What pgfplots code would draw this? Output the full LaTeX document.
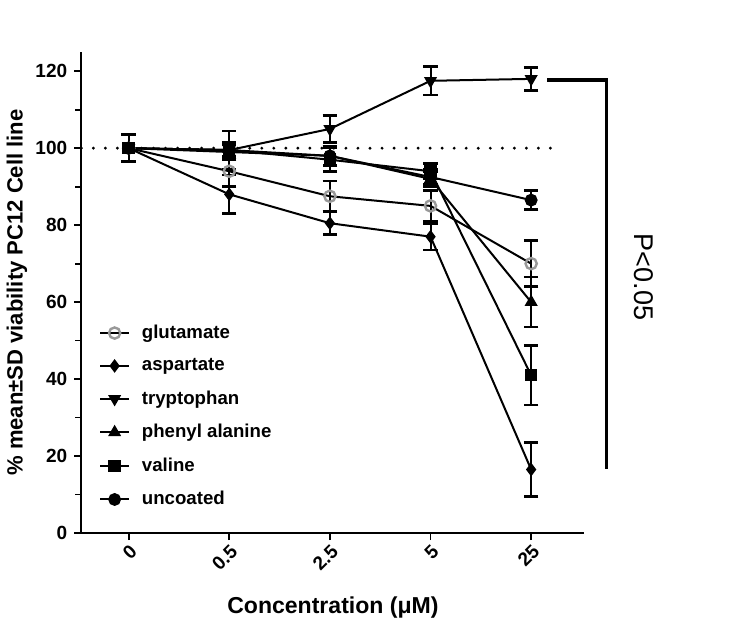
\documentclass[border=0pt]{standalone}
\usepackage{fontspec}
\setmainfont{Liberation Sans}
\usepackage{pgfplots}
\pgfplotsset{compat=1.18}
\begin{document}
\begin{tikzpicture}
\begin{axis}[
  scale only axis=true,
  width=251pt, height=240pt,
  xmin=-0.47, xmax=4.53,
  ymin=0, ymax=125,
  clip=false,
  axis x line*=bottom,
  axis y line*=left,
  axis line style={line width=0.9pt},
  xtick={0,1,2,3,4},
  xticklabels={0,0.5,2.5,5,25},
  ytick={0,20,40,60,80,100,120},
  minor ytick={10,30,50,70,90,110},
  tick align=outside,
  major tick length=3.5pt,
  minor tick length=3pt,
  tick style={line width=0.9pt, black},
  /pgf/number format/assume math mode=true,
  yticklabel style={font=\fontsize{9.5}{11}\selectfont\bfseries},
  xticklabel style={font=\fontsize{9.5}{11}\selectfont\bfseries, rotate=45, anchor=north east, inner sep=1pt},
  xlabel={Concentration (μM)},
  ylabel={\% mean±SD viability PC12 Cell line},
  xlabel style={font=\fontsize{11.5}{13}\selectfont\bfseries, at={(axis description cs:0.5,-0.155)}, anchor=center},
  ylabel style={font=\fontsize{11}{13}\selectfont\bfseries, at={(axis description cs:-0.128,0.5)}, anchor=center},
  legend style={at={(rel axis cs:0.035,0.442)}, anchor=north west, draw=none, fill=none,
    font=\fontsize{9.3}{11}\selectfont\bfseries, row sep=4.5pt, inner sep=0pt,
    nodes={inner xsep=6pt}},
  legend image code/.code={\draw[mark repeat=2,mark phase=2] plot coordinates {(0cm,0cm) (0.25cm,0cm) (0.5cm,0cm)};},
  legend cell align=left,
  error bars/error bar style={line width=1pt, black, solid},
  error bars/error mark options={rotate=90, mark size=3.6pt, line width=1.3pt, black},
]
\path (rel axis cs:-0.159,-0.227) rectangle (rel axis cs:1.323,1.108);

% reference dotted line at 100
\addplot[forget plot, black, line width=1.6pt, line cap=round, dash pattern=on 0pt off 6pt] coordinates {(-0.47,100) (4.23,100)};

\addplot[black, line width=1pt, mark=o, mark size=2.8pt, mark options={draw=black!40, line width=1.2pt, solid},
  error bars/.cd, y dir=both, y explicit]
  table[x=x, y=y, y error=e] {
x y e
0 100 3.5
1 94 4
2 87.5 4
3 85 4
4 70 6
};
\addlegendentry{glutamate}

\addplot[black, line width=1pt, mark=diamond*, mark size=2.6pt, mark options={fill=black, solid},
  error bars/.cd, y dir=both, y explicit]
  table[x=x, y=y, y error=e] {
x y e
0 100 3.5
1 88 5
2 80.5 3
3 77 3.5
4 16.5 7
};
\addlegendentry{aspartate}

\addplot[black, line width=1pt, mark=triangle*, mark size=2.8pt, mark options={fill=black, rotate=180, solid},
  error bars/.cd, y dir=both, y explicit]
  table[x=x, y=y, y error=e] {
x y e
0 100 3.5
1 99.5 5
2 105 3.5
3 117.5 3.7
4 118 3
};
\addlegendentry{tryptophan}

\addplot[black, line width=1pt, mark=triangle*, mark size=2.8pt, mark options={fill=black, solid},
  error bars/.cd, y dir=both, y explicit]
  table[x=x, y=y, y error=e] {
x y e
0 100 3.5
1 99 2
2 98 2.5
3 92 2
4 60 6.5
};
\addlegendentry{phenyl alanine}

\addplot[black, line width=1pt, mark=square*, mark size=2.6pt, mark options={fill=black, solid},
  error bars/.cd, y dir=both, y explicit]
  table[x=x, y=y, y error=e] {
x y e
0 100 3.5
1 99.5 2
2 97 3
3 94 2
4 41 7.7
};
\addlegendentry{valine}

\addplot[black, line width=1pt, mark=*, mark size=2.7pt, mark options={fill=black, solid},
  error bars/.cd, y dir=both, y explicit]
  table[x=x, y=y, y error=e] {
x y e
0 100 3.5
1 99.5 2
2 98 2.5
3 92.5 2
4 86.5 2.5
};
\addlegendentry{uncoated}

% significance bracket
\addplot[forget plot, black, line width=1.6pt, mark=none] coordinates {(4.16,117.7) (4.75,117.7) (4.75,16.7)};
\node[rotate=-90, font=\fontsize{13.5}{15}\selectfont, anchor=center] at (axis cs:5.12,66.5) {P<0.05};
\end{axis}
\end{tikzpicture}
\end{document}
